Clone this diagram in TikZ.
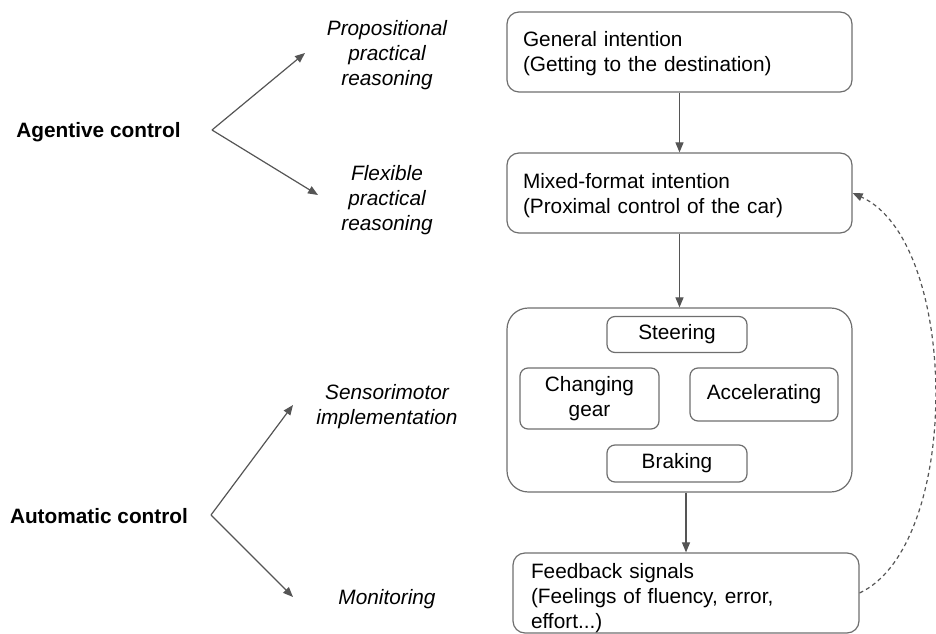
\documentclass[tikz,border=0pt]{standalone}
\usepackage{fontspec}
\setmainfont{Liberation Sans}
\usetikzlibrary{arrows.meta}
\definecolor{boxline}{HTML}{6E6E6E}
\definecolor{arrowc}{HTML}{555555}
\begin{document}
\begin{tikzpicture}[x=0.75pt,y=-0.75pt,
  every node/.style={font=\fontsize{15.6pt}{18.75pt}\selectfont, text=black},
  bigbox/.style={draw=boxline, line width=0.9pt, rounded corners=9pt, align=left,
    text width=234.75pt, inner xsep=12pt, inner ysep=0pt, minimum height=60pt},
  subbox/.style={draw=boxline, line width=0.9pt, rounded corners=6pt, align=center,
    inner sep=0pt},
  lbl/.style={font=\fontsize{15.6pt}{18.75pt}\selectfont\itshape, align=center},
  head/.style={font=\fontsize{15.6pt}{18.75pt}\selectfont\bfseries},
  arr/.style={draw=arrowc, line width=0.9pt, -{Triangle[length=7.5pt,width=6pt]}},
  fbarr/.style={draw=arrowc, line width=0.9pt, dash pattern=on 3pt off 2.5pt,
    -{Triangle[length=7.5pt,width=6pt]}}
]
\useasboundingbox (0,0) rectangle (936,634);

% right column boxes
\node[bigbox] (gen) at (679.5,52) {\rule{0pt}{14pt}General intention\\(Getting to the destination)};
\node[bigbox] (mix) at (679.5,193) {\rule{0pt}{15pt}Mixed-format intention\\(Proximal control of the car)};
\node[draw=boxline, line width=0.9pt, rounded corners=16pt,
  minimum width=258.75pt, minimum height=138pt, inner sep=0pt] (impl) at (679.5,400) {};
\node[subbox, minimum width=105pt, minimum height=27pt] (steer) at (677,334.5) {Steering};
\node[subbox, minimum width=104.25pt, minimum height=45.75pt] (gear) at (589.5,398.5) {Changing\\gear};
\node[subbox, minimum width=111pt, minimum height=39.75pt] (accel) at (764,394.5) {Accelerating};
\node[subbox, minimum width=105pt, minimum height=27.75pt] (brake) at (677,463.5) {Braking};
\node[draw=boxline, line width=0.9pt, rounded corners=9pt, align=left,
  text width=232.5pt, inner xsep=13.5pt, inner ysep=0pt, minimum height=60pt] (fb) at (686,593)
  {\rule{0pt}{19pt}Feedback signals\\(Feelings of fluency, error,\\effort...)};

% vertical arrows
\draw[arr] (gen.south) -- (mix.north);
\draw[arr] (mix.south) -- (impl.north);
\draw[arr] (impl.south -| fb.north) -- (fb.north);

% dashed feedback curve
\draw[fbarr] (fb.east) .. controls (962,545) and (960,242) .. (mix.east);

% left labels
\node[head] (agent) at (98.5,132) {Agentive control};
\node[head] (auto) at (99,516) {Automatic control};
\node[lbl] (prop) at (387,55) {Propositional\\practical\\reasoning};
\node[lbl] (flex) at (387,200) {Flexible\\practical\\reasoning};
\node[lbl] (sens) at (387,407) {Sensorimotor\\implementation};
\node[lbl] (mon) at (387,599) {Monitoring};

\coordinate (agb) at (212,130);
\coordinate (aub) at (211,515);
\coordinate (propt) at (305,53);
\coordinate (flext) at (318,195);
\coordinate (senst) at (293,405);
\coordinate (mont) at (293,597);

\draw[arr] (agb) -- (propt);
\draw[arr] (agb) -- (flext);
\draw[arr] (aub) -- (senst);
\draw[arr] (aub) -- (mont);
\end{tikzpicture}
\end{document}
